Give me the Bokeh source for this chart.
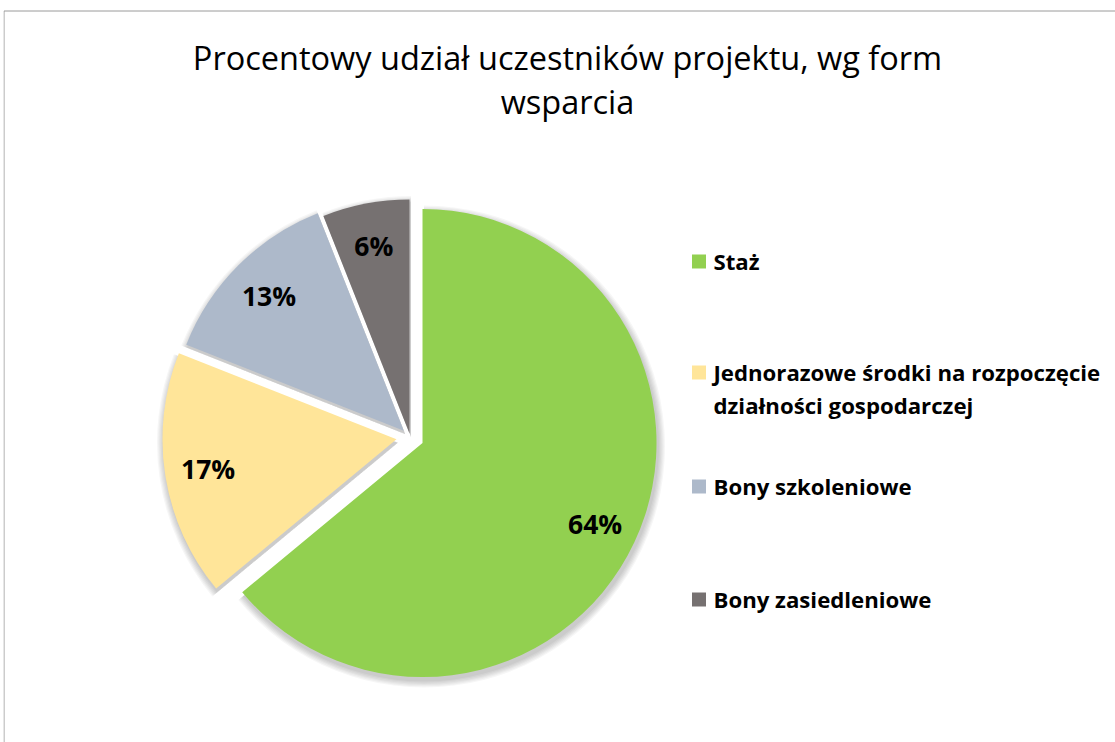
import math
from bokeh.plotting import figure
from bokeh.models import Range1d
from bokeh.core.properties import value
from bokeh.embed import file_html
from bokeh.resources import INLINE

# ---- data ----
categories = ["Staż", "Jednorazowe środki na rozpoczęcie\ndziałności gospodarczej",
              "Bony szkoleniowe", "Bony zasiedleniowe"]
shares = [64, 17, 13, 6]
labels = ["64%", "17%", "13%", "6%"]
colors = ["#92D050", "#FFE599", "#ADB9CA", "#767171"]
explode = [13.6, 13.9, 9.0, 3.8]   # px offset of each slice along its bisector

# ---- layout (data units == screen pixels) ----
X0, X1 = 3, 1115
Y_TOP, Y_BOT = 8, 742
W, H = X1 - X0, Y_BOT - Y_TOP

def sy(y):  # screen y -> data y
    return Y_BOT - y

p = figure(width=W, height=H, output_backend="svg", toolbar_location=None,
           x_range=Range1d(X0, X1), y_range=Range1d(0, H),
           min_border=0, margin=(8, 0, 0, 3))
p.axis.visible = False
p.grid.visible = False
p.outline_line_color = None
p.background_fill_color = "white"
p.border_fill_color = "white"

# chart-area border (extends beyond the visible crop)
p.quad(left=[3.5], right=[1130], top=[sy(10.5)], bottom=[sy(760)],
       fill_color=None, line_color="#9a9a9a", line_width=1)

CX, CY = 409.7, 436.7
R = 234

total = float(sum(shares))
cum = 0.0
slices = []
for i, s in enumerate(shares):
    a0 = cum / total * 360.0
    a1 = (cum + s) / total * 360.0
    cum += s
    mid = math.radians((a0 + a1) / 2)
    dx, dy = math.sin(mid), -math.cos(mid)  # screen direction (y down)
    cx = CX + explode[i] * dx
    cy = CY + explode[i] * dy
    slices.append((a0, a1, cx, cy, dx, dy))

# soft shadows
for k in range(6):
    for (a0, a1, cx, cy, dx, dy) in slices:
        p.wedge(x=[cx + 1.5], y=[sy(cy + 3.5)], radius=R + 1 + k * 1.2,
                start_angle=math.radians(90 - a1), end_angle=math.radians(90 - a0),
                fill_color="black", fill_alpha=0.035, line_color=None)

for i, (a0, a1, cx, cy, dx, dy) in enumerate(slices):
    p.wedge(x=[cx], y=[sy(cy)], radius=R,
            start_angle=math.radians(90 - a1), end_angle=math.radians(90 - a0),
            fill_color=colors[i], line_color=None)

# data labels
for i, (a0, a1, cx, cy, dx, dy) in enumerate(slices):
    lx = cx + 0.815 * R * dx
    ly = cy + 0.815 * R * dy
    p.text(x=[lx], y=[sy(ly)], text=[labels[i]], text_font=value("Open Sans"),
           text_font_style="bold", text_font_size="26.5px", text_color="black",
           text_align="center", text_baseline="middle")

# title
p.text(x=[567], y=[sy(57)], text=["Procentowy udział uczestników projektu, wg form"],
       text_font=value("Open Sans"), text_font_size="32.5px", text_color="black",
       text_align="center", text_baseline="middle")
p.text(x=[567], y=[sy(101)], text=["wsparcia"],
       text_font=value("Open Sans"), text_font_size="32.5px", text_color="black",
       text_align="center", text_baseline="middle")

# legend
leg_y = [261, 372, 486, 599]
for i, name in enumerate(categories):
    p.rect(x=[698.5], y=[sy(leg_y[i])], width=14, height=14,
           fill_color=colors[i], line_color=None)
    p.text(x=[713], y=[sy(leg_y[i])], text=[name.split("\n")[0]],
           text_font=value("Open Sans"), text_font_style="bold",
           text_font_size="22.2px", text_color="black",
           text_align="left", text_baseline="middle")
    if "\n" in name:
        p.text(x=[713], y=[sy(leg_y[i] + 33)], text=[name.split("\n")[1]],
               text_font=value("Open Sans"), text_font_style="bold",
               text_font_size="22.2px", text_color="black",
               text_align="left", text_baseline="middle")

open("out.html", "w").write(file_html(p, INLINE))
